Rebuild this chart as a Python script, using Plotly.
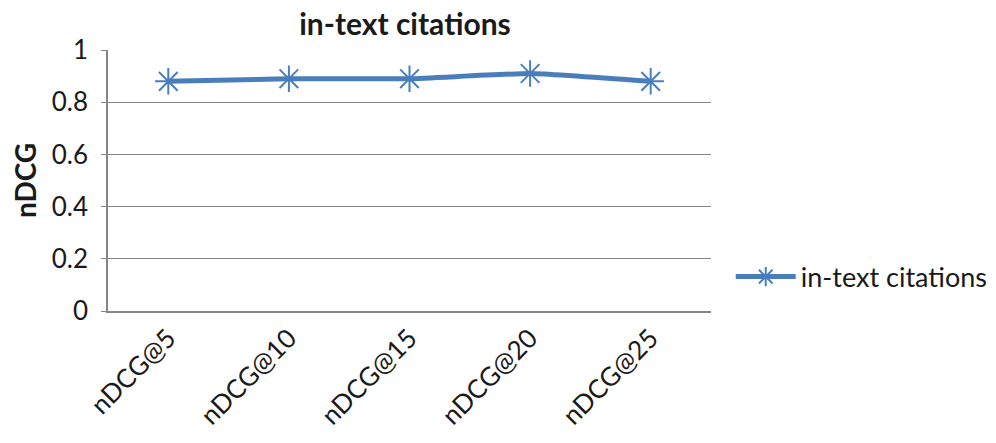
import plotly.graph_objects as go

categories = ["nDCG@5", "nDCG@10", "nDCG@15", "nDCG@20", "nDCG@25"]
ndcg_values = [0.88, 0.89, 0.89, 0.91, 0.88]
series_name = "in-text citations"

fig = go.Figure()
fig.add_trace(go.Scatter(
    x=categories, y=ndcg_values, name=series_name,
    mode="lines+markers",
    line=dict(color="#4A7EBB", width=5, shape="spline", smoothing=0.4),
    marker=dict(symbol="asterisk-open", size=22,
                line=dict(color="#4A7EBB", width=2)),
))

# the page body has an 8px margin, so margins are shifted to compensate
fig.update_layout(
    width=996, height=435,
    margin=dict(l=100, r=292, t=42, b=132),
    paper_bgcolor="white", plot_bgcolor="white",
    font=dict(family="Lato, Open Sans, sans-serif", size=26, color="#1a1a1a"),
    title=dict(text="<b>in-text citations</b>", x=(405 - 8) / 996, xanchor="center",
               y=1 - 6 / 435, yanchor="top", font=dict(size=30)),
    showlegend=True,
    legend=dict(x=1.031, y=0.13, xanchor="left", yanchor="middle",
                itemwidth=60, font=dict(size=27), bgcolor="rgba(0,0,0,0)"),
)
fig.update_xaxes(
    range=[-0.5, 4.5], tickangle=-45, showgrid=False, showline=True,
    linecolor="#868686", linewidth=1.5, ticks="", tickfont=dict(size=26),
    automargin=False,
)
fig.update_yaxes(
    range=[0, 1], dtick=0.2, showgrid=True, gridcolor="#868686", gridwidth=1,
    showline=True, linecolor="#868686", linewidth=1.5, zeroline=False,
    tickformat="~g", tickfont=dict(size=26), ticks="outside", ticklen=5,
    tickcolor="#868686", ticklabelstandoff=8, automargin=False,
    title=dict(text="<b>nDCG</b>", font=dict(size=28), standoff=14),
)

fig.write_html("out.html")
